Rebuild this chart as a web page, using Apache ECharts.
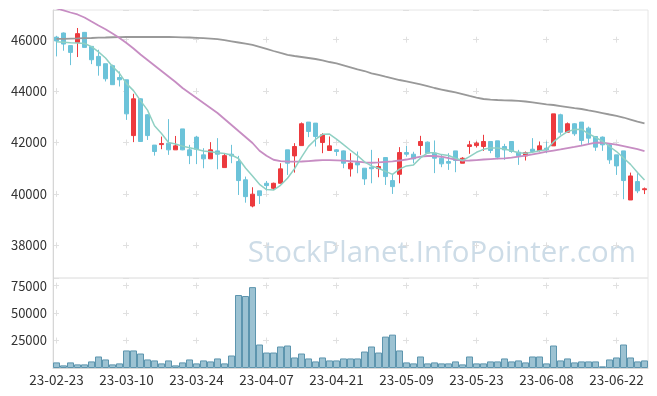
<!DOCTYPE html>
<html><head><meta charset="utf-8">
<script src="https://cdn.jsdelivr.net/npm/echarts@6/dist/echarts.min.js"></script>
<style>html,body{margin:0;padding:0;background:#fff}#c{width:657px;height:396px}</style>
</head><body><div id="c"></div>
<script>
const dates = [
 '23-02-23','23-02-24','23-02-27','23-02-28','23-03-02','23-03-03','23-03-06','23-03-07','23-03-08','23-03-09',
 '23-03-10','23-03-13','23-03-14','23-03-15','23-03-16','23-03-17','23-03-20','23-03-21','23-03-22','23-03-23',
 '23-03-24','23-03-27','23-03-28','23-03-29','23-03-30','23-03-31','23-04-03','23-04-04','23-04-05','23-04-06',
 '23-04-07','23-04-10','23-04-11','23-04-12','23-04-13','23-04-14','23-04-17','23-04-18','23-04-19','23-04-20',
 '23-04-21','23-04-24','23-04-25','23-04-26','23-04-27','23-04-28','23-05-02','23-05-03','23-05-04','23-05-08',
 '23-05-09','23-05-10','23-05-11','23-05-12','23-05-15','23-05-16','23-05-17','23-05-18','23-05-19','23-05-22',
 '23-05-23','23-05-24','23-05-25','23-05-26','23-05-30','23-05-31','23-06-01','23-06-02','23-06-05','23-06-07',
 '23-06-08','23-06-09','23-06-12','23-06-13','23-06-14','23-06-15','23-06-16','23-06-19','23-06-20','23-06-21',
 '23-06-22','23-06-23','23-06-26','23-06-27','23-06-28'
];
// [open, close, low, high]
const ohlc = [
 [46100,45950,45350,46150],[46260,45830,45570,46280],[45770,45505,45010,45770],[45895,46235,45325,46455],[46285,45700,45700,46300],
 [45740,45220,45050,45740],[45350,44990,44600,45610],[45065,44480,44375,45065],[44990,44250,44250,45030],[44530,44440,44180,44765],
 [44440,43115,42880,44440],[42270,43700,42015,43895],[43700,42040,42020,43720],[43080,42270,42100,43100],[41900,41650,41490,41900],
 [41920,41960,41740,42230],[41975,41715,41520,42910],[41715,41870,41715,42255],[42530,41715,41700,42530],[41715,41490,41160,41910],
 [42210,41740,41160,42260],[41520,41365,41000,41780],[41365,41715,41365,42015],[41675,41545,40960,42170],[41025,41490,41025,41590],
 [41545,41480,41195,41910],[41260,40520,39960,41480],[40550,39895,39660,40675],[39530,39990,39480,40260],[40120,39935,39610,40120],
 [40415,40325,40130,40505],[40220,40415,40155,40440],[40415,40975,40415,41195],[41715,41195,40740,41715],[41480,41845,40830,41975],
 [41880,42730,41880,42780],[42795,42430,42210,42795],[42755,42235,41845,42755],[42000,42300,41585,42365],[41690,41870,41690,42235],
 [41715,41650,41480,41740],[41675,41195,41000,41690],[40975,41195,40675,41585],[41220,41130,40805,41650],[41000,40585,40350,41000],
 [41040,40980,40415,41715],[40985,41065,40650,41390],[41415,40675,40350,41415],[40520,40285,40000,40780],[40765,41610,40415,41820],
 [41610,41545,41450,41870],[41545,41365,41195,41640],[41885,42040,41520,42260],[42015,41585,41560,42040],[41585,41390,40810,42080],
 [41390,41170,41040,41555],[41260,41195,40935,41585],[41675,41300,40845,41675],[41195,41390,41195,41430],[41845,41910,41560,42065],
 [41880,41975,41805,42040],[41845,42040,41675,42300],[42040,41690,41585,42060],[42065,41430,41350,42065],[41845,41715,41325,41950],
 [42040,41650,41600,42040],[41625,41490,41130,41715],[41480,41610,41300,41650],[41740,41650,41585,42170],[41690,41870,41650,42040],
 [41780,41715,41585,42040],[41870,43115,41870,43115],[43080,42400,42300,43120],[42400,42730,42400,42780],[42730,42340,42260,42755],
 [42795,42080,41910,42795],[42560,42170,41950,42620],[42235,41820,41675,42235],[42210,41910,41675,42235],[41910,41325,41170,41975],
 [41520,41090,40740,41520],[41675,40520,39795,41675],[39765,40700,39765,40830],[40480,40120,40030,40805],[40165,40200,39995,40250]
];
const ma5 = [
 45922,45903,45883,45872,45850,45730,45525,45290,44960,44690,
 44290,44020,43630,43260,42650,42350,42000,41940,41860,41800,
 41740,41670,41640,41600,41570,41515,41380,41010,40700,40375,
 40170,40150,40335,40610,40980,41435,41850,42120,42320,42330,
 42135,41915,41700,41490,41250,41090,41000,40880,40760,40965,
 41090,41130,41400,41600,41600,41530,41495,41390,41300,41450,
 41620,41735,41785,41790,41750,41680,41605,41580,41625,41680,
 41720,42025,42250,42425,42505,42520,42340,42200,42050,41845,
 41650,41400,41150,40830,40545
];
const ma20 = [
 47214,47136,47058,46981,46864,46708,46553,46405,46241,46066,
 45872,45658,45424,45210,44996,44782,44568,44354,44121,43926,
 43732,43537,43343,43148,42915,42681,42447,42214,41981,41680,
 41485,41330,41280,41261,41253,41261,41280,41300,41319,41319,
 41307,41292,41272,41253,41230,41214,41230,41249,41269,41300,
 41339,41397,41455,41475,41475,41447,41397,41339,41292,41300,
 41319,41339,41358,41370,41385,41416,41455,41494,41541,41592,
 41642,41689,41735,41786,41833,41883,41942,41992,42000,41961,
 41922,41864,41806,41747,41669
];
const ma60 = [
 46030,46035,46045,46050,46060,46065,46080,46085,46095,46100,
 46105,46105,46105,46105,46105,46105,46105,46100,46093,46086,
 46074,46058,46039,46019,45981,45938,45891,45844,45794,45724,
 45646,45560,45483,45412,45366,45327,45288,45249,45191,45132,
 45081,45004,44926,44848,44782,44693,44627,44561,44498,44432,
 44374,44316,44258,44198,44121,44062,44004,43953,43887,43817,
 43751,43693,43669,43654,43642,43634,43623,43595,43564,43525,
 43486,43459,43420,43381,43342,43304,43253,43206,43148,43090,
 43039,42973,42895,42817,42747
];
const volumes = [
 5100,2400,5100,3300,3300,6000,10500,7800,3300,4200,
 16000,16000,13200,7800,6900,4200,6900,2400,5100,7800,
 4200,6900,6000,8700,4200,11400,66500,65600,73700,21400,
 14100,14100,19600,20500,9600,13200,8700,6000,9600,6900,
 6900,8700,8700,8700,15000,19600,14100,28600,30400,16000,
 5100,4200,10500,4200,5100,4200,4200,6000,3300,10500,
 4200,4200,6000,6000,8700,6000,6900,5100,10500,10500,
 4200,20500,6900,8700,5100,6000,6000,6000,1500,7800,
 9600,21400,9600,6000,6900
];
const watermark = 'StockPlanet.InfoPointer.com';

const FONT = "'Noto Sans CJK KR', 'Noto Sans', sans-serif";
const crossColor = '#e0e0e0';
const upColor = '#ec3a3e', downColor = '#6cc3d9';
const plain = v => String(v);
const chart = echarts.init(document.getElementById('c'));
chart.setOption({
  animation: false,
  backgroundColor: '#fff',
  textStyle: {fontFamily: FONT},
  grid: [
    {left: 53, top: 10, width: 595, height: 268, show: true, borderColor: '#e6e6e6', borderWidth: 1},
    {left: 53, top: 278, width: 595, height: 90, show: true, borderColor: '#e6e6e6', borderWidth: 1}
  ],
  graphic: [{
    type: 'text', x: 636, y: 254, z: 0, silent: true,
    style: {text: watermark, font: "29.4px 'Open Sans'", fill: '#cddce7', textAlign: 'right', textVerticalAlign: 'middle'}
  }],
  xAxis: [
    {type: 'category', gridIndex: 0, data: dates, boundaryGap: true,
     axisLine: {show: false}, axisTick: {show: false}, axisLabel: {show: false},
     splitLine: {show: true, interval: 9, alignWithLabel: true,
       lineStyle: {color: crossColor, width: 1, type: [6, 45.41], dashOffset: 24.72}}},
    {type: 'category', gridIndex: 1, data: dates, boundaryGap: true,
     axisLine: {show: true, lineStyle: {color: '#d6d6d6'}}, axisTick: {show: false},
     axisLabel: {interval: 9, fontSize: 13.5, color: '#333', margin: 5, fontFamily: FONT},
     splitLine: {show: true, interval: 9, alignWithLabel: true,
       lineStyle: {color: crossColor, width: 1, type: [6, 21.44], dashOffset: 22.76}}}
  ],
  yAxis: [
    {type: 'value', gridIndex: 0, min: 36730, max: 47155,
     axisLine: {show: true, lineStyle: {color: '#d6d6d6'}}, axisTick: {show: false},
     axisLabel: {fontSize: 13, color: '#333', margin: 6, showMinLabel: false, showMaxLabel: false, fontFamily: FONT, formatter: plain},
     splitLine: {show: true, lineStyle: {color: crossColor, width: 1, type: [6, 64], dashOffset: 0}}},
    {type: 'value', gridIndex: 1, min: 0, max: 82000, interval: 25000,
     axisLine: {show: true, lineStyle: {color: '#d6d6d6'}}, axisTick: {show: false},
     axisLabel: {fontSize: 13, color: '#333', margin: 6, showMinLabel: false, showMaxLabel: false, fontFamily: FONT, formatter: plain},
     splitLine: {show: true, lineStyle: {color: crossColor, width: 1, type: [6, 64], dashOffset: 0}}}
  ],
  series: [
    {type: 'candlestick', xAxisIndex: 0, yAxisIndex: 0, data: ohlc, barWidth: 5,
     itemStyle: {color: upColor, color0: downColor, borderColor: upColor, borderColor0: downColor, borderWidth: 1}},
    {type: 'line', xAxisIndex: 0, yAxisIndex: 0, data: ma60, showSymbol: false, symbol: 'none',
     lineStyle: {color: '#999999', width: 1.8}, z: 3},
    {type: 'line', xAxisIndex: 0, yAxisIndex: 0, data: ma20, showSymbol: false, symbol: 'none',
     lineStyle: {color: '#c78dc3', width: 1.8}, z: 3},
    {type: 'line', xAxisIndex: 0, yAxisIndex: 0, data: ma5, showSymbol: false, symbol: 'none',
     lineStyle: {color: '#8fd0c3', width: 1.5}, z: 4},
    {type: 'bar', xAxisIndex: 1, yAxisIndex: 1, data: volumes, barCategoryGap: '0%',
     itemStyle: {color: '#9cc2d2', borderColor: '#5d95ae', borderWidth: 1}}
  ]
});
</script>
</body></html>
